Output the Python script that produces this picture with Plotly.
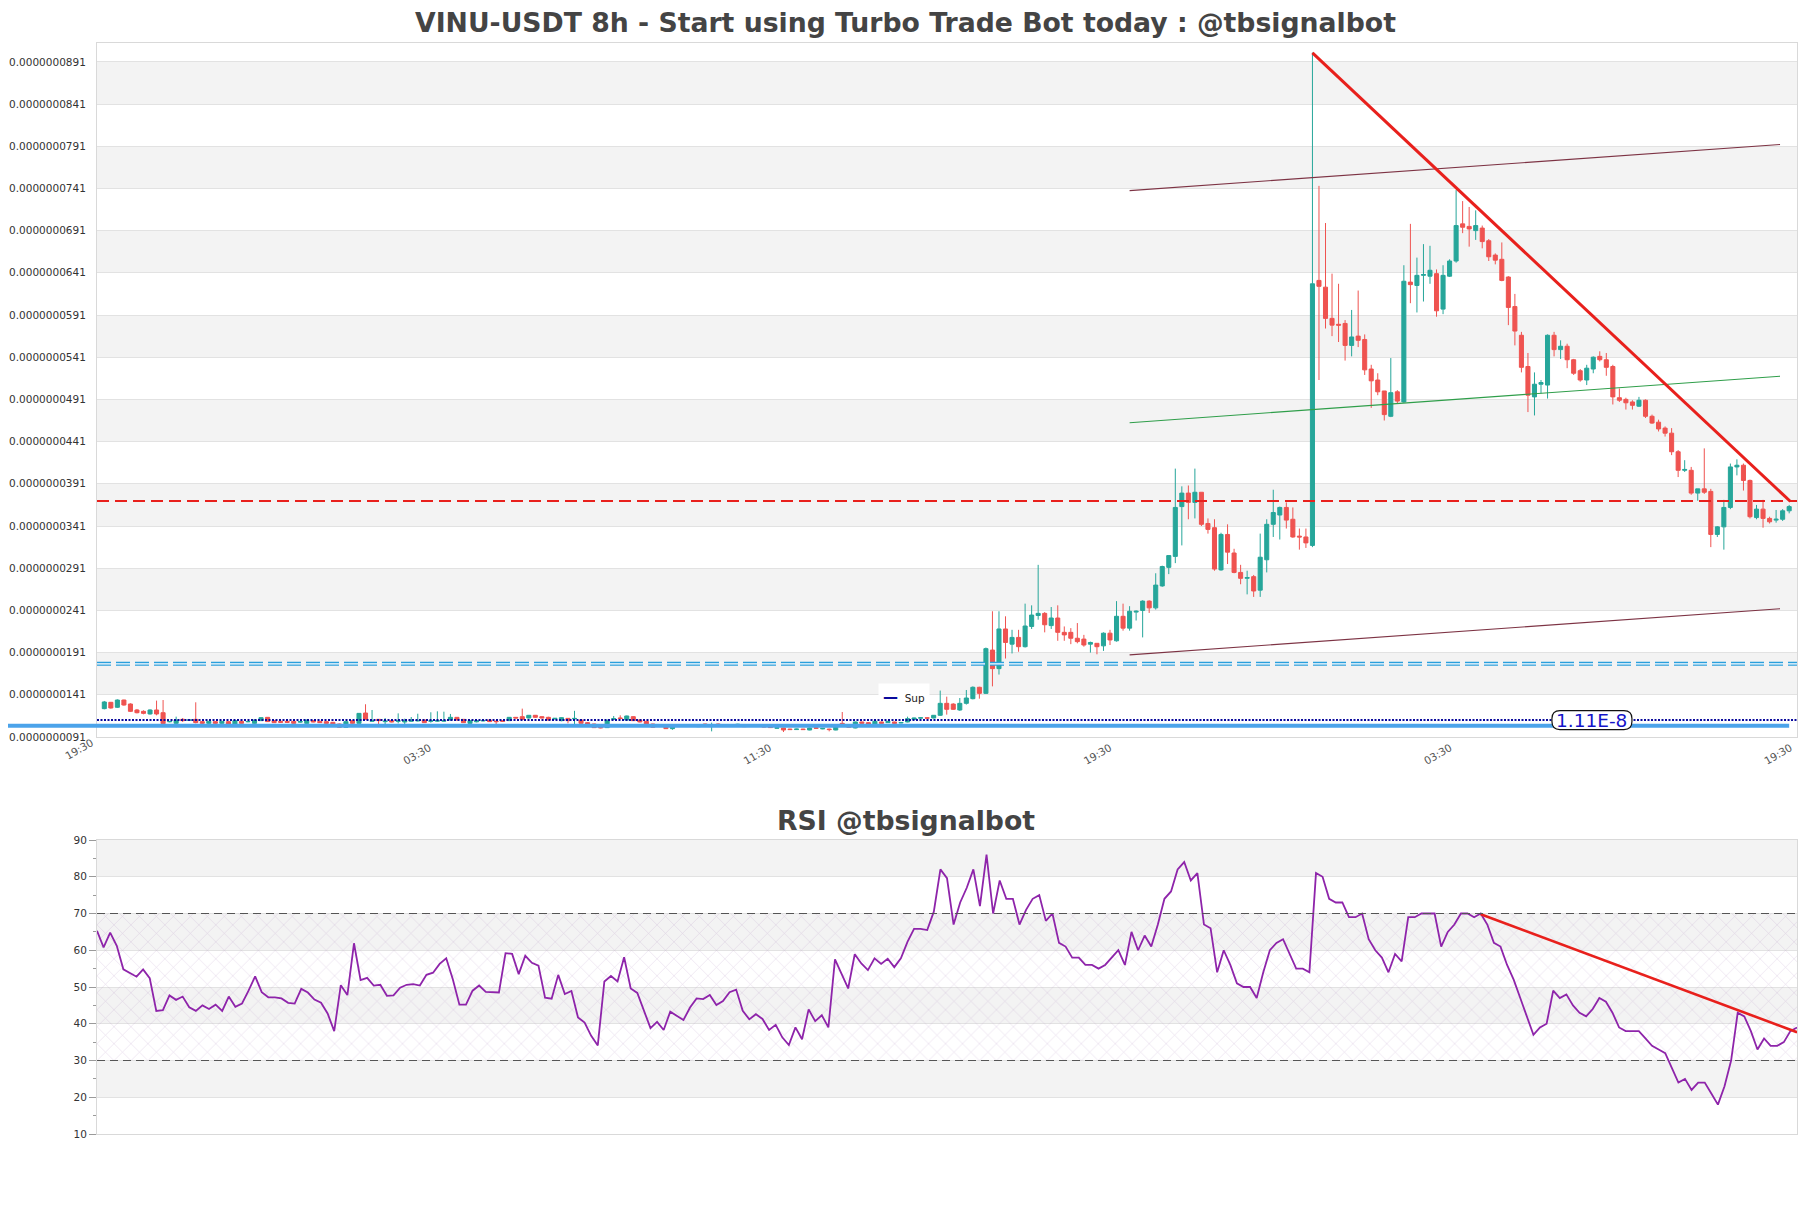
import plotly.graph_objects as go

E = 1e-9  # all price values below are in units of 1e-9

opens = [12.46, 13.21, 12.62, 13.48, 13.01, 12.30, 12.14, 11.83, 12.30, 11.98,
         10.90, 10.72, 11.19, 11.08, 11.19, 10.92, 10.72, 10.92, 10.72, 10.92,
         10.56, 10.96, 10.90, 10.72, 11.04, 11.43, 11.04, 10.96, 10.96, 10.96,
         10.86, 10.72, 11.04, 10.96, 10.92, 10.84, 10.64, 10.25, 11.04, 10.72,
         11.94, 10.96, 11.19, 10.92, 11.04, 10.96, 10.88, 10.96, 11.00, 11.11,
         10.96, 10.98, 10.98, 11.11, 11.43, 11.19, 10.72, 10.90, 11.00, 11.11,
         10.98, 11.04, 11.04, 11.43, 11.51, 11.35, 11.67, 11.51, 11.43, 11.23,
         11.04, 11.31, 11.24, 11.11, 10.80, 10.64, 10.56, 10.21, 11.20, 11.35,
         11.11, 11.51, 11.11, 10.96, 10.64, 10.38, 10.40, 10.09, 10.44, 10.42,
         10.38, 10.32, 10.64, 10.44, 10.64, 10.44, 10.52, 10.54, 10.56, 10.42,
         10.36, 10.36, 10.28, 10.14, 10.17, 10.04, 9.98, 10.04, 9.93, 10.20,
         10.06, 10.04, 9.93, 10.72, 10.48, 10.17, 10.88, 10.80, 10.64, 10.88,
         10.80, 10.88, 10.76, 10.88, 11.19, 11.33, 11.38, 11.35, 11.67, 13.09,
         13.00, 12.30, 13.09, 13.64, 14.99, 14.27, 19.40, 17.20, 21.90, 20.10,
         20.90, 19.80, 22.20, 23.50, 23.75, 22.30, 23.20, 21.50, 21.50, 20.80,
         20.70, 20.10, 20.20, 19.90, 21.40, 20.50, 23.40, 22.00, 23.90, 24.10,
         25.20, 24.40, 27.00, 29.20, 30.50, 36.40, 38.00, 36.90, 38.10, 34.40,
         33.90, 28.90, 33.10, 30.90, 28.60, 27.90, 28.10, 26.50, 30.10, 34.30,
         35.40, 36.30, 34.90, 32.90, 32.80, 31.80, 63.20, 62.40, 58.70, 58.00,
         58.10, 55.50, 56.60, 56.20, 52.70, 51.40, 50.10, 47.10, 50.00, 48.80,
         63.00, 62.60, 63.80, 63.70, 64.00, 59.80, 63.70, 65.50, 69.90, 69.60,
         69.10, 69.40, 67.90, 66.20, 65.70, 63.60, 60.10, 56.70, 53.00, 49.40,
         50.90, 50.80, 56.70, 55.00, 55.40, 53.80, 52.50, 51.40, 52.70, 54.20,
         53.80, 53.00, 49.30, 49.10, 48.80, 48.30, 49.00, 47.10, 46.40, 45.70,
         45.10, 42.90, 40.70, 40.70, 38.00, 38.50, 38.20, 33.10, 34.00, 36.30,
         41.10, 41.30, 39.50, 35.10, 36.10, 35.00, 34.80, 34.90, 35.90]

highs = [13.37, 13.25, 13.56, 13.52, 13.09, 12.42, 12.26, 12.38, 13.41, 13.48,
         10.96, 11.51, 11.35, 11.19, 13.21, 10.96, 11.00, 11.00, 11.00, 10.96,
         11.08, 11.00, 10.96, 11.15, 11.45, 11.47, 11.08, 11.00, 11.00, 11.00,
         11.00, 11.15, 11.08, 11.00, 10.96, 10.88, 10.68, 10.96, 11.08, 11.94,
         12.98, 12.30, 11.23, 11.35, 11.08, 11.90, 11.27, 11.47, 11.86, 11.15,
         12.03, 12.14, 12.10, 11.83, 11.47, 11.23, 11.08, 11.08, 11.08, 11.15,
         11.02, 11.08, 11.47, 11.47, 12.46, 11.71, 11.71, 11.55, 11.50, 11.35,
         11.43, 11.35, 12.20, 11.15, 10.84, 10.68, 10.60, 11.20, 11.59, 11.67,
         11.63, 11.55, 11.15, 11.00, 10.68, 10.50, 10.45, 10.60, 10.50, 10.48,
         10.48, 10.60, 10.68, 10.80, 10.68, 10.56, 10.64, 10.66, 10.60, 10.46,
         10.46, 10.40, 10.32, 10.24, 10.20, 10.08, 10.08, 10.08, 10.20, 10.24,
         10.16, 10.08, 10.60, 12.06, 10.52, 10.92, 10.92, 10.84, 11.00, 10.92,
         11.00, 10.92, 10.88, 11.51, 11.40, 11.45, 11.45, 11.70, 14.60, 13.88,
         13.10, 13.72, 14.67, 15.10, 15.05, 19.70, 24.00, 24.00, 23.40, 21.80,
         21.80, 24.90, 24.70, 29.50, 23.90, 24.50, 24.70, 22.20, 22.00, 22.60,
         21.20, 20.40, 20.20, 21.50, 21.80, 25.20, 24.90, 24.60, 24.10, 25.30,
         25.30, 28.50, 29.40, 30.60, 40.90, 38.80, 38.90, 40.90, 38.10, 35.00,
         34.90, 33.30, 34.30, 31.40, 29.50, 28.80, 28.30, 33.20, 34.90, 38.40,
         36.40, 36.90, 36.30, 33.80, 33.80, 90.20, 74.40, 70.00, 64.00, 62.80,
         58.50, 59.70, 62.00, 56.80, 53.20, 52.20, 50.10, 54.00, 50.20, 65.00,
         69.90, 65.90, 67.50, 67.30, 64.50, 65.00, 65.70, 73.90, 72.60, 71.90,
         71.50, 69.70, 68.10, 66.40, 67.70, 63.70, 61.60, 57.10, 54.60, 52.30,
         51.40, 56.80, 57.10, 56.10, 55.70, 53.90, 52.70, 53.20, 54.20, 54.80,
         54.60, 53.20, 50.40, 49.30, 49.00, 49.40, 49.10, 47.30, 46.70, 45.90,
         45.70, 43.10, 41.90, 41.10, 38.50, 43.30, 38.50, 34.10, 37.20, 41.50,
         42.00, 41.50, 39.60, 36.60, 37.20, 35.20, 36.00, 36.10, 36.60]

lows = [12.38, 12.46, 12.54, 12.81, 12.06, 11.90, 11.79, 11.75, 11.67, 10.68,
        10.84, 10.25, 10.88, 11.00, 10.72, 10.60, 10.60, 10.60, 10.64, 10.56,
        10.52, 10.68, 10.84, 10.68, 11.00, 10.88, 10.76, 10.80, 10.80, 10.68,
        10.80, 10.68, 10.84, 10.76, 10.68, 10.56, 10.20, 10.20, 10.68, 10.68,
        11.15, 10.90, 10.56, 10.56, 10.84, 10.72, 10.32, 10.90, 10.94, 10.76,
        10.80, 10.92, 10.92, 11.05, 11.07, 10.76, 10.68, 10.84, 10.96, 10.88,
        10.48, 10.92, 11.00, 11.31, 11.15, 11.31, 11.39, 11.31, 11.05, 11.19,
        10.96, 10.72, 10.64, 10.68, 10.50, 10.17, 10.13, 10.17, 11.15, 11.20,
        11.07, 11.00, 10.84, 10.60, 10.20, 10.30, 10.05, 9.95, 10.30, 10.30,
        10.32, 10.28, 10.36, 9.77, 10.36, 10.40, 10.48, 10.50, 10.28, 10.32,
        10.32, 10.25, 10.18, 10.10, 9.69, 9.94, 9.94, 9.94, 9.90, 10.10,
        10.02, 9.77, 9.90, 10.44, 10.20, 10.13, 10.68, 10.60, 10.60, 10.68,
        10.76, 10.68, 10.72, 10.84, 11.15, 11.30, 11.30, 11.30, 11.60, 11.75,
        12.30, 12.20, 12.94, 13.56, 13.64, 14.20, 15.10, 16.50, 18.40, 19.00,
        19.20, 19.70, 21.90, 23.00, 21.50, 21.90, 20.50, 20.50, 20.10, 20.20,
        19.80, 19.10, 18.90, 19.30, 20.00, 20.40, 21.70, 21.70, 22.90, 20.90,
        23.80, 24.20, 26.90, 28.40, 29.70, 31.80, 34.90, 35.00, 34.10, 33.20,
        28.80, 28.80, 29.60, 28.50, 27.20, 26.00, 25.70, 25.70, 28.60, 32.80,
        32.50, 33.80, 32.70, 31.30, 31.50, 31.60, 51.40, 57.50, 56.60, 55.90,
        53.70, 54.20, 55.30, 52.00, 48.10, 49.60, 46.60, 47.00, 48.60, 48.70,
        60.50, 59.40, 60.70, 62.80, 58.90, 59.20, 63.60, 65.30, 68.80, 67.20,
        68.00, 67.00, 65.50, 65.10, 63.10, 57.90, 55.50, 52.30, 47.60, 47.20,
        49.80, 49.20, 54.20, 53.90, 52.80, 52.00, 51.20, 50.80, 52.20, 53.60,
        51.90, 48.50, 48.80, 47.90, 47.90, 48.20, 46.90, 46.20, 45.30, 44.70,
        42.50, 39.90, 40.50, 37.80, 37.10, 37.90, 31.60, 32.80, 31.30, 36.10,
        40.10, 38.30, 35.00, 34.90, 33.90, 34.40, 34.50, 34.70, 35.60]

closes = [13.25, 12.54, 13.48, 12.89, 12.14, 11.98, 11.90, 12.30, 11.83, 10.68,
          10.94, 11.11, 11.04, 11.12, 10.80, 10.72, 10.96, 10.72, 10.96, 10.60,
          11.04, 10.72, 10.94, 11.11, 11.39, 10.92, 10.80, 10.84, 10.84, 10.72,
          10.94, 11.11, 10.88, 10.80, 10.72, 10.60, 10.25, 10.92, 10.72, 11.90,
          11.19, 11.04, 11.04, 10.98, 10.88, 11.02, 11.04, 11.11, 11.06, 10.80,
          11.02, 11.04, 11.04, 11.43, 11.11, 10.80, 11.04, 11.04, 11.06, 10.92,
          10.92, 10.96, 11.43, 11.35, 11.19, 11.67, 11.43, 11.35, 11.11, 11.31,
          11.39, 11.04, 11.30, 10.72, 10.56, 10.21, 10.17, 11.04, 11.27, 11.30,
          11.59, 11.04, 10.88, 10.64, 10.25, 10.42, 10.09, 10.56, 10.38, 10.36,
          10.42, 10.56, 10.40, 10.50, 10.40, 10.50, 10.58, 10.60, 10.32, 10.36,
          10.42, 10.30, 10.22, 10.20, 9.93, 9.98, 10.04, 9.98, 10.17, 10.14,
          10.12, 9.98, 10.56, 10.48, 10.25, 10.88, 10.72, 10.64, 10.96, 10.72,
          10.96, 10.72, 10.82, 11.27, 11.35, 11.38, 11.33, 11.67, 13.09, 12.38,
          12.38, 13.09, 13.72, 14.99, 14.27, 19.57, 17.20, 21.90, 20.30, 20.90,
          19.80, 22.25, 23.55, 23.75, 22.40, 23.20, 21.50, 21.20, 20.80, 20.40,
          20.00, 20.30, 19.80, 21.40, 20.60, 23.40, 22.00, 24.00, 24.00, 25.20,
          24.40, 27.10, 29.30, 30.60, 36.30, 38.00, 36.90, 38.10, 34.30, 33.70,
          29.00, 33.10, 31.00, 28.60, 27.90, 28.00, 26.40, 30.40, 34.30, 35.70,
          36.30, 34.80, 32.80, 32.80, 32.10, 62.80, 62.50, 58.70, 57.90, 57.90,
          55.50, 56.50, 56.10, 52.60, 51.30, 50.00, 47.30, 49.90, 48.90, 63.10,
          62.70, 63.80, 63.90, 64.40, 59.60, 63.80, 65.50, 69.70, 69.50, 69.30,
          69.70, 67.80, 66.00, 65.60, 63.20, 60.00, 57.20, 52.90, 49.60, 50.90,
          51.10, 56.70, 55.00, 55.40, 53.80, 52.20, 51.40, 52.80, 54.10, 53.80,
          52.90, 49.40, 49.00, 48.70, 48.40, 49.00, 47.10, 46.30, 45.60, 45.10,
          42.90, 40.70, 40.80, 38.00, 38.50, 38.10, 33.10, 34.00, 36.30, 41.10,
          41.30, 39.50, 35.20, 36.10, 35.00, 34.60, 34.90, 35.90, 36.40]

rsi = [65.3, 60.8, 64.8, 61.2, 54.8, 53.7, 52.8, 54.8, 52.4, 43.5,
       43.7, 47.7, 46.5, 47.4, 44.5, 43.5, 45.0, 44.0, 45.2, 43.5,
       47.4, 44.6, 45.5, 49.0, 52.9, 48.6, 47.2, 47.2, 46.9, 45.7,
       45.5, 49.5, 48.5, 46.6, 45.7, 42.8, 38.0, 50.5, 47.8, 61.9,
       51.9, 52.5, 50.4, 50.6, 47.6, 47.7, 49.8, 50.6, 50.8, 50.4,
       53.3, 53.9, 56.3, 57.8, 52.1, 45.2, 45.2, 49.0, 50.4, 48.7,
       48.6, 48.5, 59.2, 59.0, 53.5, 58.5, 56.6, 55.8, 47.1, 46.8,
       53.3, 48.1, 48.9, 41.7, 40.3, 36.7, 34.1, 51.5, 53.0, 51.5,
       58.1, 49.6, 48.4, 43.6, 38.8, 40.5, 38.3, 43.3, 42.1, 41.0,
       44.4, 46.9, 46.7, 47.8, 45.1, 46.2, 48.6, 49.3, 43.5, 41.2,
       42.6, 41.3, 38.3, 39.7, 36.3, 34.2, 39.0, 35.8, 43.9, 40.7,
       42.3, 39.0, 57.5, 53.7, 49.6, 58.9, 56.4, 54.6, 57.8, 56.3,
       57.7, 55.4, 57.8, 62.3, 65.8, 65.8, 65.5, 70.5, 82.0,
       79.6, 67, 73, 77, 82, 72, 86, 70, 79, 74,
       74, 67, 71, 74, 75, 68, 70,
       62, 61, 58, 58, 56, 56, 55, 56, 58,
       60, 56, 65, 60, 64, 61, 67, 74, 76, 82,
       84, 79, 81, 67, 66, 54, 60, 56, 51, 50,
       50, 47, 54, 60, 62, 63, 59, 55, 55, 54, 81,
       80, 74, 73, 73, 69, 69, 70, 63, 60, 58,
       54, 59, 57, 69, 69, 70, 70, 70, 61, 65,
       67, 70, 70, 69, 70, 67, 62, 61, 56, 52,
       47, 42, 37, 39, 40, 49, 47, 48, 45, 43,
       42, 44, 47, 46, 43, 39, 38, 38, 38, 36,
       34, 33, 32, 28, 24, 25, 22, 24, 24, 21,
       18, 23, 30, 43, 42, 38, 33, 36, 34, 34,
       35, 38, 39]

# time-axis labels (position in candle index units); the first one sits
# just left of the plotting area
tick_pos = [-2.3, 49.8, 101.9, 154.0, 206.1, 258.2]
tick_txt = ["19:30", "03:30", "11:30", "19:30", "03:30", "19:30"]

# horizontal levels (1e-9 units)
sup_level = 11.11
base_level = 10.44
cyan_level = 17.77
red_level = 37.05

# trend / channel lines: [x0, y0, x1, y1]  (x = candle index)
red_trend = [185, 90.15, 258.2, 37.0]
chan_upper = [157, 73.84, 256.6, 79.3]
chan_mid = [157, 46.34, 256.6, 51.85]
chan_lower = [157, 18.83, 256.6, 24.3]
rsi_trend = [210, 69.8, 258, 37.7]

# ---------------------------------------------------------------------------
OFF = 8                      # page body margin of the html output
PW, PHT = 1811, 1208         # page size
W, H = PW - OFF, PHT - OFF
PL, PR_, PT, PB = 97, 1797, 43, 1134      # plot area on the page
M_L, M_R, M_T, M_B = PL - OFF, PW - PR_, PT - OFF, PHT - PB
PH = PB - PT
PWID = PR_ - PL
main_dom = [(PB - 737) / PH, 1.0]
rsi_dom = [0.0, (PB - 840) / PH]
y_rng = [9.1, 91.33]
x_rng = [-1.12, 259.2]
N = len(closes)
xs = list(range(N))
FONT = "DejaVu Sans"

def ypaper(v):
    return main_dom[0] + (v - y_rng[0]) / (y_rng[1] - y_rng[0]) * (main_dom[1] - main_dom[0])

def xpaper(i):
    return (i - x_rng[0]) / (x_rng[1] - x_rng[0])

fig = go.Figure()

fig.add_trace(go.Candlestick(
    x=xs, open=[v * E for v in opens], high=[v * E for v in highs],
    low=[v * E for v in lows], close=[v * E for v in closes],
    increasing=dict(line=dict(color="#26a69a", width=1), fillcolor="#26a69a"),
    decreasing=dict(line=dict(color="#ef5350", width=1), fillcolor="#ef5350"),
    whiskerwidth=0, showlegend=False, xaxis="x", yaxis="y", hoverinfo="skip"))

for ln, col, w in [(chan_upper, "#7d3344", 1.1), (chan_lower, "#7d3344", 1.1),
                   (chan_mid, "#2f9e4a", 1.1), (red_trend, "#e8201c", 3)]:
    fig.add_trace(go.Scatter(x=[ln[0], ln[2]], y=[ln[1] * E, ln[3] * E], mode="lines",
                             line=dict(color=col, width=w), showlegend=False,
                             xaxis="x", yaxis="y", hoverinfo="skip"))

# RSI hatch band + line
n_r = len(rsi)
fig.add_trace(go.Scatter(x=[0, n_r - 1, n_r - 1, 0, 0], y=[30, 30, 70, 70, 30],
                         mode="lines", line=dict(width=0), fill="toself",
                         fillcolor="rgba(0,0,0,0)",
                         fillpattern=dict(shape="x", fgcolor="rgba(165,125,185,0.55)",
                                          bgcolor="rgba(0,0,0,0)", size=12, solidity=0.1),
                         showlegend=False, xaxis="x2", yaxis="y2", hoverinfo="skip"))
fig.add_trace(go.Scatter(x=list(range(n_r)), y=rsi, mode="lines",
                         line=dict(color="#8e24aa", width=1.8), showlegend=False,
                         xaxis="x2", yaxis="y2", hoverinfo="skip"))
fig.add_trace(go.Scatter(x=[rsi_trend[0], rsi_trend[2]], y=[rsi_trend[1], rsi_trend[3]],
                         mode="lines", line=dict(color="#e8201c", width=2.6),
                         showlegend=False, xaxis="x2", yaxis="y2", hoverinfo="skip"))

shapes = []
# alternating bands main
ticks_main = [round(9.1 + 5 * k, 2) for k in range(17)]
for k in range(len(ticks_main) - 1, 0, -2):
    shapes.append(dict(type="rect", xref="x domain", yref="y", x0=0, x1=1,
                       y0=ticks_main[k - 1] * E, y1=ticks_main[k] * E,
                       fillcolor="#f3f3f3", line=dict(width=0), layer="below"))
# alternating bands RSI
for lo, hi in [(80, 90), (60, 70), (40, 50), (20, 30)]:
    shapes.append(dict(type="rect", xref="x2 domain", yref="y2", x0=0, x1=1, y0=lo, y1=hi,
                       fillcolor="#f3f3f3", line=dict(width=0), layer="below"))
# RSI 70 / 30 dashed
for lv in [70, 30]:
    shapes.append(dict(type="line", xref="x2 domain", yref="y2", x0=0, x1=1, y0=lv, y1=lv,
                       line=dict(color="#555555", width=1.2, dash="8px,5px")))
# red dashed level
shapes.append(dict(type="line", xref="x domain", yref="y", x0=0, x1=1,
                   y0=red_level * E, y1=red_level * E,
                   line=dict(color="#e8201c", width=2, dash="12px,6px")))
# cyan double dashed level
shapes.append(dict(type="line", xref="x domain", yref="y", x0=0, x1=1,
                   y0=cyan_level * E, y1=cyan_level * E,
                   line=dict(color="#2a9fdc", width=4, dash="14px,5px")))
shapes.append(dict(type="line", xref="x domain", yref="y", x0=0, x1=1,
                   y0=cyan_level * E, y1=cyan_level * E,
                   line=dict(color="#ffffff", width=1.3, dash="14px,5px")))
# light blue base line (extends left of plot)
shapes.append(dict(type="line", xref="paper", yref="paper", x0=(OFF - PL) / PWID,
                   x1=xpaper(N - 1), y0=ypaper(base_level), y1=ypaper(base_level),
                   line=dict(color="#4ba3ea", width=4)))
# navy dotted support
shapes.append(dict(type="line", xref="x domain", yref="y", x0=0, x1=1,
                   y0=sup_level * E, y1=sup_level * E,
                   line=dict(color="#0a0a9c", width=2, dash="2px,1.5px")))

# rounded label box for support value
bw, bh, r = 80, 19, 8
hw, hh = bw / 2, bh / 2
path = (f"M {-hw + r},{-hh} L {hw - r},{-hh} Q {hw},{-hh} {hw},{-hh + r} "
        f"L {hw},{hh - r} Q {hw},{hh} {hw - r},{hh} L {-hw + r},{hh} "
        f"Q {-hw},{hh} {-hw},{hh - r} L {-hw},{-hh + r} Q {-hw},{-hh} {-hw + r},{-hh} Z")
lab_x = 227.8
shapes.append(dict(type="path", xref="x", yref="y", xsizemode="pixel", ysizemode="pixel",
                   xanchor=lab_x, yanchor=sup_level * E, path=path,
                   fillcolor="white", line=dict(color="#111111", width=1.2), layer="above"))

annotations = [
    dict(x=lab_x, y=sup_level * E, xref="x", yref="y", text="1.11E-8", showarrow=False,
         font=dict(family=FONT, size=18.5, color="#1414c8"), xanchor="center", yanchor="middle"),
    dict(x=(906 - PL) / PWID, y=(PB - 820) / PH, xref="paper", yref="paper",
         text="<b>RSI @tbsignalbot</b>", showarrow=False,
         font=dict(family=FONT, size=26.7, color="#444444"), xanchor="center", yanchor="middle"),
    dict(x=(904 - PL) / PWID, y=(PB - 697) / PH, xref="paper", yref="paper",
         text="<span style='color:#0a0a9c;font-size:15px'><b>—</b></span>  Sup",
         showarrow=False,
         font=dict(family=FONT, size=10.5, color="#222222"), bgcolor="white",
         borderpad=4, xanchor="center", yanchor="middle"),
    # first time label lies just outside the plotting range
    dict(x=(79 - PL) / PWID, y=(PB - 749) / PH, xref="paper", yref="paper",
         text=tick_txt[0], textangle=-30, showarrow=False,
         font=dict(family=FONT, size=10.5, color="#555555"),
         xanchor="center", yanchor="middle"),
]

axis_line = "#d9d9d9"
fig.update_layout(
    width=W, height=H, margin=dict(l=M_L, r=M_R, t=M_T, b=M_B, autoexpand=False),
    paper_bgcolor="white", plot_bgcolor="white", showlegend=False,
    boxgap=0.38, boxgroupgap=0.0,
    font=dict(family=FONT, color="#444444"),
    title=dict(text="<b>VINU-USDT 8h - Start using Turbo Trade Bot today : @tbsignalbot</b>",
               x=(PW / 2 - OFF) / W, xanchor="center", y=1 - (23 - OFF) / H,
               yanchor="middle", yref="container",
               font=dict(family=FONT, size=26.7, color="#444444")),
    xaxis=dict(domain=[0, 1], anchor="y", range=x_rng, tickmode="array",
               tickvals=tick_pos[1:], ticktext=tick_txt[1:], tickangle=-30,
               tickfont=dict(size=10.5, color="#555555"), showgrid=False, zeroline=False,
               showline=True, linecolor=axis_line, mirror=True, rangeslider=dict(visible=False),
               ticks="", automargin=False),
    yaxis=dict(domain=main_dom, anchor="x", range=[y_rng[0] * E, y_rng[1] * E],
               tickmode="array", tickvals=[t * E for t in ticks_main], tickformat=".10f",
               tickfont=dict(size=10.5, color="#333333"), showgrid=True, gridcolor="#e2e2e2",
               zeroline=False, showline=True, linecolor=axis_line, mirror=True,
               ticks="", ticklabelstandoff=8, automargin=False),
    xaxis2=dict(domain=[0, 1], anchor="y2", range=[0, n_r - 1], showticklabels=False,
                showgrid=False, zeroline=False, showline=True, linecolor=axis_line,
                mirror=True, ticks="", automargin=False),
    yaxis2=dict(domain=rsi_dom, anchor="x2", range=[10, 90], tickmode="array",
                tickvals=[10, 20, 30, 40, 50, 60, 70, 80, 90],
                tickfont=dict(size=10.5, color="#333333"), showgrid=True, gridcolor="#e2e2e2",
                zeroline=False, showline=True, linecolor=axis_line, mirror=True,
                ticks="outside", ticklen=7, tickcolor="#9a9a9a", automargin=False,
                minor=dict(ticks="outside", ticklen=3, dtick=5, tick0=5, tickcolor="#9a9a9a",
                           showgrid=False)),
    shapes=shapes, annotations=annotations,
)

fig.write_html("out.html")
